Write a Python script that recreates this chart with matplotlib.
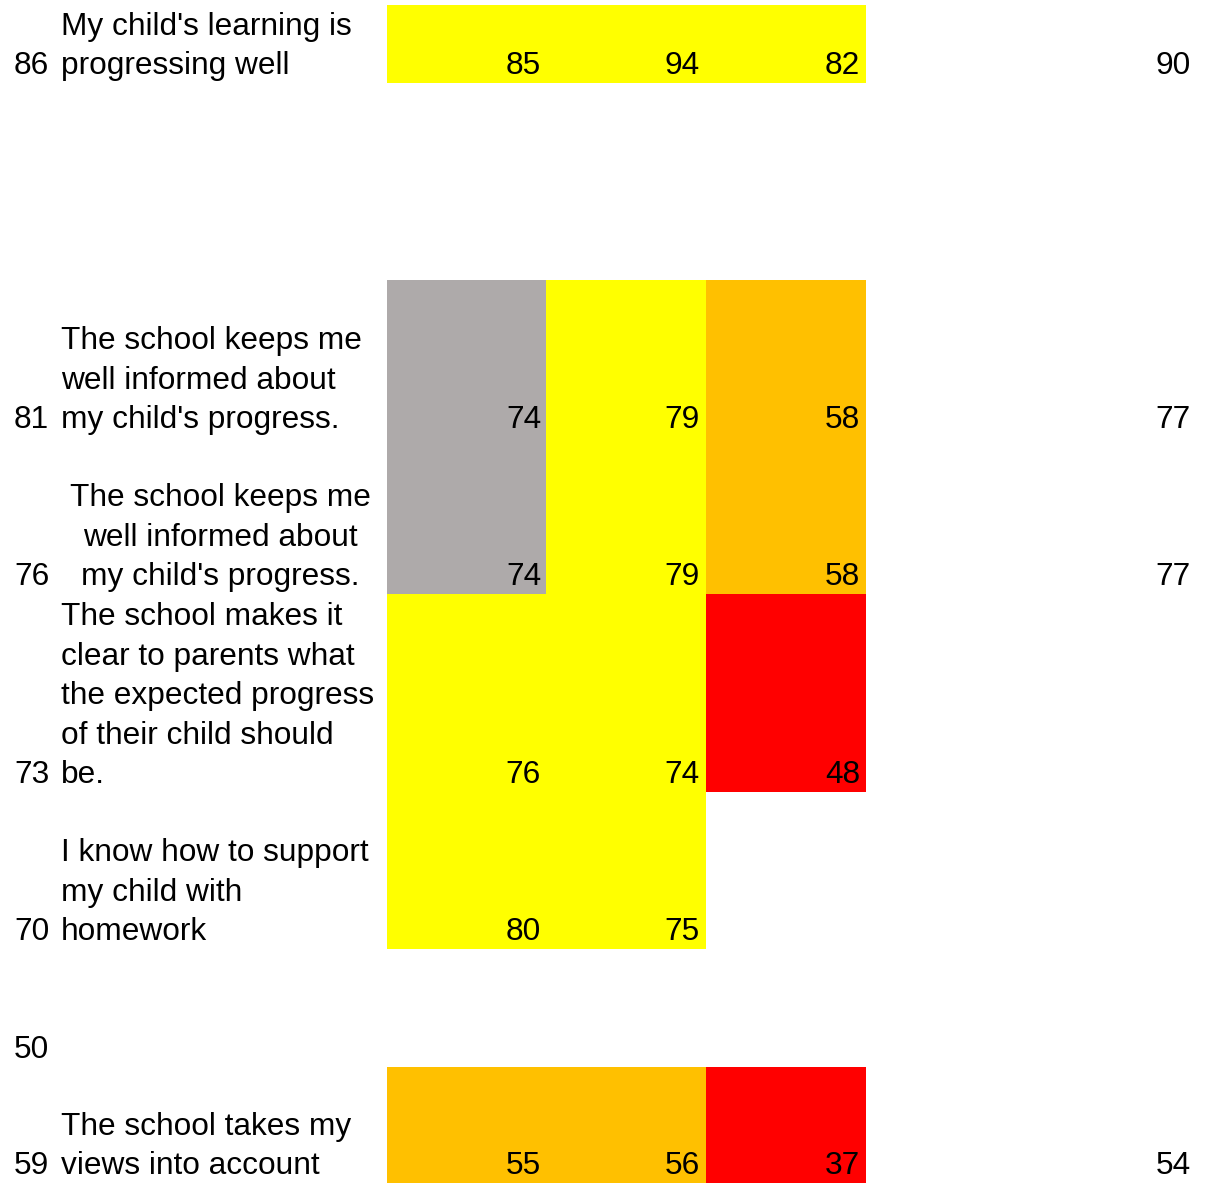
import matplotlib
matplotlib.use("Agg")
import matplotlib.pyplot as plt

# =========================
# Data
# =========================

questions = [
    "My child's learning is\nprogressing well",
    "The school keeps me\nwell informed about\nmy child's progress.",
    "The school keeps me\nwell informed about\nmy child's progress.",
    "The school makes it\nclear to parents what\nthe expected progress\nof their child should\nbe.",
    "I know how to support\nmy child with\nhomework",
    "",
    "The school takes my\nviews into account",
]
left_scores = [86, 81, 76, 73, 70, 50, 59]
col_a = [85, 74, 74, 76, 80, None, 55]
col_b = [94, 79, 79, 74, 75, None, 56]
col_c = [82, 58, 58, 48, None, None, 37]
right_scores = [90, 77, 77, None, None, None, 54]

# cell fill colours (traffic light style from the spreadsheet)
YEL, GRY, ORA, RED = "#FFFF00", "#AEAAAA", "#FFC000", "#FF0000"
fill_a = [YEL, GRY, GRY, YEL, YEL, None, ORA]
fill_b = [YEL, YEL, YEL, YEL, YEL, None, ORA]
fill_c = [YEL, ORA, ORA, RED, None, None, RED]

# =========================
# Layout (pixels)
# =========================
row_top = [5, 280, 437, 594, 792, 949, 1067]
row_bot = [83, 437, 594, 792, 949, 1067, 1183]
col_left = [387, 546, 706]
col_w = 160
text_align = ["left", "left", "center", "left", "left", "left", "left"]

W, H = 1215, 1183
fig = plt.figure(figsize=(W / 100, H / 100), dpi=100)
ax = fig.add_axes([0, 0, 1, 1])
ax.set_xlim(0, W)
ax.set_ylim(H, 0)
ax.axis("off")

FONT = "Liberation Sans"
FS = 22.8
LS = 1.41

for i in range(len(questions)):
    top, bot = row_top[i], row_bot[i]
    y = bot - 2
    for x0, vals, fills in zip(col_left, [col_a, col_b, col_c],
                               [fill_a, fill_b, fill_c]):
        if fills[i] is not None:
            ax.bar(x0, bot - top, bottom=top, width=col_w,
                   align="edge", color=fills[i], linewidth=0)
        if vals[i] is not None:
            ax.text(x0 + col_w - 6, y, str(vals[i]), ha="right", va="bottom",
                    fontsize=FS, family=FONT)

    ax.text(14, y, str(left_scores[i]), ha="left", va="bottom",
            fontsize=FS, family=FONT)
    if questions[i]:
        if text_align[i] == "center":
            ax.text(220, y, questions[i], ha="center", va="bottom",
                    multialignment="center", fontsize=FS, family=FONT,
                    linespacing=LS)
        else:
            ax.text(61, y, questions[i], ha="left", va="bottom",
                    multialignment="left", fontsize=FS, family=FONT,
                    linespacing=LS)
    if right_scores[i] is not None:
        ax.text(1191, y, str(right_scores[i]), ha="right", va="bottom",
                fontsize=FS, family=FONT)

fig.savefig("out.png", dpi=100)
